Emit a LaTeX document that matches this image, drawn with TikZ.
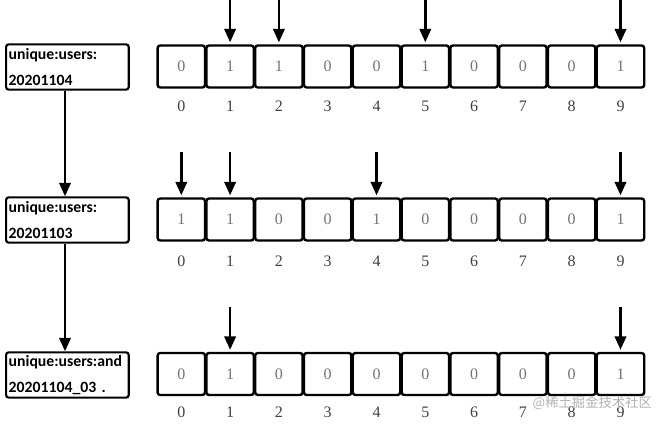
\documentclass[tikz,border=0pt]{standalone}
\usepackage{fontspec}
\setmainfont{Liberation Serif}
\newfontfamily\labfont{Carlito}
\newfontfamily\cjk{Noto Sans CJK SC}
\usetikzlibrary{arrows.meta}
\begin{document}
\begin{tikzpicture}[x=0.75pt,y=-0.75pt,
  cell/.style={draw=black,line width=1.8pt,rounded corners=2pt,minimum width=35.6pt,minimum height=31.5pt,inner sep=0pt,font=\fontsize{12}{12}\selectfont,text=black!55},
  idx/.style={font=\fontsize{12}{12}\selectfont,text=black!75},
  keybox/.style={draw=black,line width=1.6pt,rounded corners=2pt,text width=88pt,minimum height=34pt,inner sep=2pt,align=left,font=\labfont\bfseries\fontsize{11.8}{20}\selectfont,anchor=west},
  arr/.style={line width=1.8pt,-{Triangle[length=10pt,width=8.5pt]}}]
\useasboundingbox (0,0) rectangle (665,424);
% key boxes
\node[keybox] (k1) at (5,67) {unique:users:\\20201104};
\node[keybox] (k2) at (5,220) {unique:users:\\20201103};
\node[keybox] (k3) at (5,375) {unique:users:and\\20201104\_03 .};
\draw[arr] (k1.south -| 65,0) -- (k2.north -| 65,0);
\draw[arr] (k2.south -| 65,0) -- (k3.north -| 65,0);
% rows
\foreach \r/\y/\ly/\vals in {1/66.5/106/{0,1,1,0,0,1,0,0,0,1},2/219.5/261/{1,1,0,0,1,0,0,0,0,1},3/374/412/{0,1,0,0,0,0,0,0,0,1}}{
  \foreach \v [count=\i from 0] in \vals {
    \node[cell] (r\r c\i) at ({181.3+48.8*\i},\y) {\v};
    \node[idx] (l\r c\i) at ({181.3+48.8*\i},\ly) {\i};
  }
}
% arrows
\foreach \i in {1,2,5,9}{
  \coordinate (s1\i) at ({181.3+48.8*\i},0);
  \draw[arr] (s1\i) -- ([yshift=1.5pt]r1c\i.north);
}
\foreach \i in {0,1,4,9}{
  \coordinate (s2\i) at ({181.3+48.8*\i},152);
  \draw[arr] (s2\i) -- ([yshift=1.5pt]r2c\i.north);
}
\foreach \i in {1,9}{
  \coordinate (s3\i) at ({181.3+48.8*\i},307);
  \draw[arr] (s3\i) -- ([yshift=1.5pt]r3c\i.north);
}
\node[font=\cjk\fontsize{10}{12}\selectfont,text=black!30,anchor=west] (wm) at (528,403) {@稀土掘金技术社区};
\end{tikzpicture}
\end{document}
